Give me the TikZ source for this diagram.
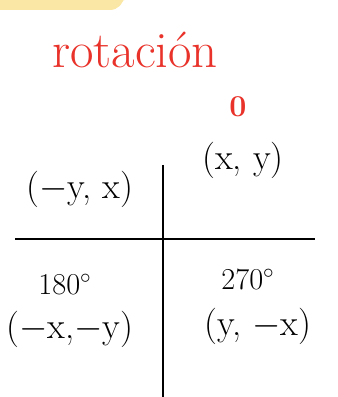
\documentclass[tikz,border=0pt]{standalone}
\usepackage{tikz}
\usepackage{xcolor}
\definecolor{penred}{HTML}{E8322A}
\definecolor{tabyellow}{HTML}{FAE7A5}

\begin{document}
\begin{tikzpicture}[font=\huge,line width=1.1pt,every node/.style={inner sep=1pt,align=center}]
\useasboundingbox (0,0) rectangle (6.76,7.94);
\fill[tabyellow,rounded corners=8pt] (-0.3,8.2) rectangle (2.48,7.74);
\node[text=penred,font=\fontsize{29}{30}\selectfont](title) at (2.70,6.94){rotaci\'on};
\node[text=penred,font=\LARGE\bfseries](zero) at (4.76,5.80){0};
\node(q2) at (1.60,4.16){($-$y, x)};
\node(q1) at (4.86,4.74){(x, y)};
\node[font=\LARGE](d180) at (1.30,2.24){180$^\circ$};
\node(q3) at (1.40,1.36){($-$x,$-$y)};
\node[font=\LARGE](d270) at (4.96,2.36){270$^\circ$};
\node(q4) at (5.16,1.42){(y, $-$x)};
\coordinate(top) at (3.26,4.64);\coordinate(bot) at (3.26,0);
\coordinate(left) at (0.30,3.16);\coordinate(right) at (6.30,3.16);
\draw(top)--(bot);\draw(left)--(right);
\end{tikzpicture}
\end{document}
